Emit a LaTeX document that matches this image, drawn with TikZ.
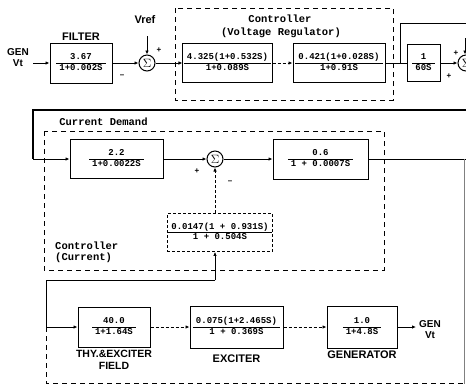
\documentclass[tikz,border=0pt]{standalone}
\usepackage{fontspec}
\setmainfont{Liberation Sans}
\setmonofont{Liberation Mono}
\usetikzlibrary{arrows.meta,positioning}
\setlength{\arrayrulewidth}{0.8pt}
\newcommand{\blkfrac}[2]{\begin{tabular}{@{\hspace{3pt}}c@{\hspace{3pt}}}#1\\\hline #2\end{tabular}}

\begin{document}
\begin{tikzpicture}[x=1pt,y=-1pt,
    blk/.style={rectangle, draw, line width=1pt, inner sep=1pt,
                font=\ttfamily\bfseries\fontsize{9}{10}\selectfont},
    sumnode/.style={circle, draw, line width=1pt, minimum size=16pt,
                    inner sep=0pt, font=\fontsize{13}{13}\selectfont},
    lbl/.style={font=\bfseries\fontsize{11}{12}\selectfont, inner sep=1pt, align=center},
    ttl/.style={font=\ttfamily\bfseries\fontsize{10.5}{12}\selectfont, inner sep=1pt},
    sig/.style={font=\bfseries\fontsize{8}{8}\selectfont, inner sep=0pt},
    ln/.style={line width=0.9pt},
    arr/.style={ln, -{Latex[length=4pt,width=3.5pt]}},
    grp/.style={line width=0.9pt, dash pattern=on 5pt off 4pt}
  ]
  \useasboundingbox (0,0) rectangle (466,384);
  \clip (0,0) rectangle (466,384);

  % voltage loop
  \node[lbl, font=\bfseries\fontsize{10}{11}\selectfont] (gin) at (18,58) {GEN\\Vt};
  \coordinate (gin0) at (33,63);
  \node[blk, minimum width=62pt, minimum height=40pt] (filt) at (81,63) {\blkfrac{3.67}{1+0.002S}};
  \node[lbl, above=1pt of filt] {FILTER};
  \node[sumnode] (s1) at (147,63) {$\Sigma$};
  \node[lbl] (vref) at (145,20) {Vref};
  \coordinate (vref0) at (147,36);
  \node[sig] at (159,50) {+};
  \node[sig] at (122,76) {--};
  \node[blk, minimum width=89pt, minimum height=39pt] (ctl1) at (227.5,63) {\blkfrac{4.325(1+0.532S)}{1+0.089S}};
  \node[blk, minimum width=92pt, minimum height=39pt] (ctl2) at (339,63) {\blkfrac{0.421(1+0.028S)}{1+0.91S}};
  \draw[grp] (175,8) rectangle (393,100);
  \node[ttl] at (280,19) {Controller};
  \node[ttl] at (281,33) {(Voltage Regulator)};
  \node[blk, minimum width=33pt, minimum height=37pt] (intg) at (423.5,63) {\blkfrac{1}{60S}};
  \node[sumnode] (s3) at (466,63) {$\Sigma$};
  \coordinate (s3in) at (465,38);
  \node[sig] at (456,53) {+};
  \node[sig] at (449,76) {+};
  \coordinate (br1) at (400,63);
  \coordinate (br1up) at (400,23);
  \coordinate (topr) at (470,23);

  \draw[arr] (gin0) -- (filt.west);
  \draw[arr] (filt.east) -- (s1.west);
  \draw[arr] (vref0) -- (s1.north);
  \draw[arr] (s1.east) -- (ctl1.west);
  \draw[arr, densely dashed] (ctl1.east) -- (ctl2.west);
  \draw[ln] (ctl2.east) -- (intg.west);
  \draw[ln] (br1) -- (br1up) -- (topr);
  \draw[arr] (intg.east) -- (s3.west);
  \draw[arr] (s3in) -- (s3in |- s3.north);

  % current demand
  \coordinate (fb0) at (470,110);
  \coordinate (fb1) at (33,110);
  \coordinate (fb2) at (33,159);
  \node[blk, minimum width=93pt, minimum height=39pt] (cd1) at (116.5,159) {\blkfrac{2.2}{1+0.0022S}};
  \node[sumnode] (s2) at (215,159) {$\Sigma$};
  \node[sig] at (197,171) {+};
  \node[sig] at (230,182) {--};
  \node[blk, minimum width=95pt, minimum height=40pt] (cd2) at (320.5,159) {\blkfrac{0.6}{1 + 0.0007S}};
  \coordinate (cdout) at (470,159);
  \node[blk, densely dashed, line width=0.7pt, minimum width=104pt, minimum height=38pt] (cc) at (220,232.5) {\blkfrac{0.0147(1 + 0.931S)}{1 + 0.504S}};
  \draw[grp] (44,131) rectangle (384,270);
  \node[ttl] at (103.5,122) {Current Demand};
  \node[ttl, anchor=west] at (54,246) {Controller};
  \node[ttl, anchor=west] at (54,258) {(Current)};

  \draw[ln, line width=1.3pt] (fb0) -- (fb1) -- (fb2);
  \draw[arr] (fb2) -- (cd1.west);
  \draw[arr] (cd1.east) -- (s2.west);
  \draw[arr] (s2.east) -- (cd2.west);
  \draw[ln] (cd2.east) -- (cdout);
  \draw[arr, densely dashed] (s2 |- cc.north) -- (s2.south);

  % exciter and generator
  \coordinate (fbc) at (215,280);
  \coordinate (fbl) at (46,280);
  \coordinate (fbt) at (46,327);
  \node[blk, minimum width=72pt, minimum height=40pt] (thy) at (114,327) {\blkfrac{40.0}{1+1.64S}};
  \node[lbl, below=1pt of thy, font=\bfseries\fontsize{10.5}{12}\selectfont] {THY.\&EXCITER\\FIELD};
  \node[blk, minimum width=93pt, minimum height=42pt] (exc) at (236.5,327) {\blkfrac{0.075(1+2.465S)}{1 + 0.369S}};
  \node[lbl, below=5pt of exc] {EXCITER};
  \node[blk, minimum width=70pt, minimum height=42pt] (gen) at (362,327) {\blkfrac{1.0}{1+4.8S}};
  \node[lbl, below=1pt of gen] {GENERATOR};
  \coordinate (gout) at (416,327);
  \node[lbl, font=\bfseries\fontsize{10}{11}\selectfont] (gvt) at (430,330) {GEN\\Vt};

  \draw[arr] (fbc) -- (fbc |- cc.south);
  \draw[ln] (fbc) -- (fbl) -- (fbt);
  \draw[arr] (fbt) -- (thy.west);
  \draw[arr, densely dashed] (thy.east) -- (exc.west);
  \draw[arr, densely dashed] (exc.east) -- (gen.west);
  \draw[arr] (gen.east) -- (gout);
  \draw[grp] (fbt) -- (46,383) -- (464,383);
  \draw[line width=0.5pt, gray] (464,159) -- (464,384);
\end{tikzpicture}
\end{document}
